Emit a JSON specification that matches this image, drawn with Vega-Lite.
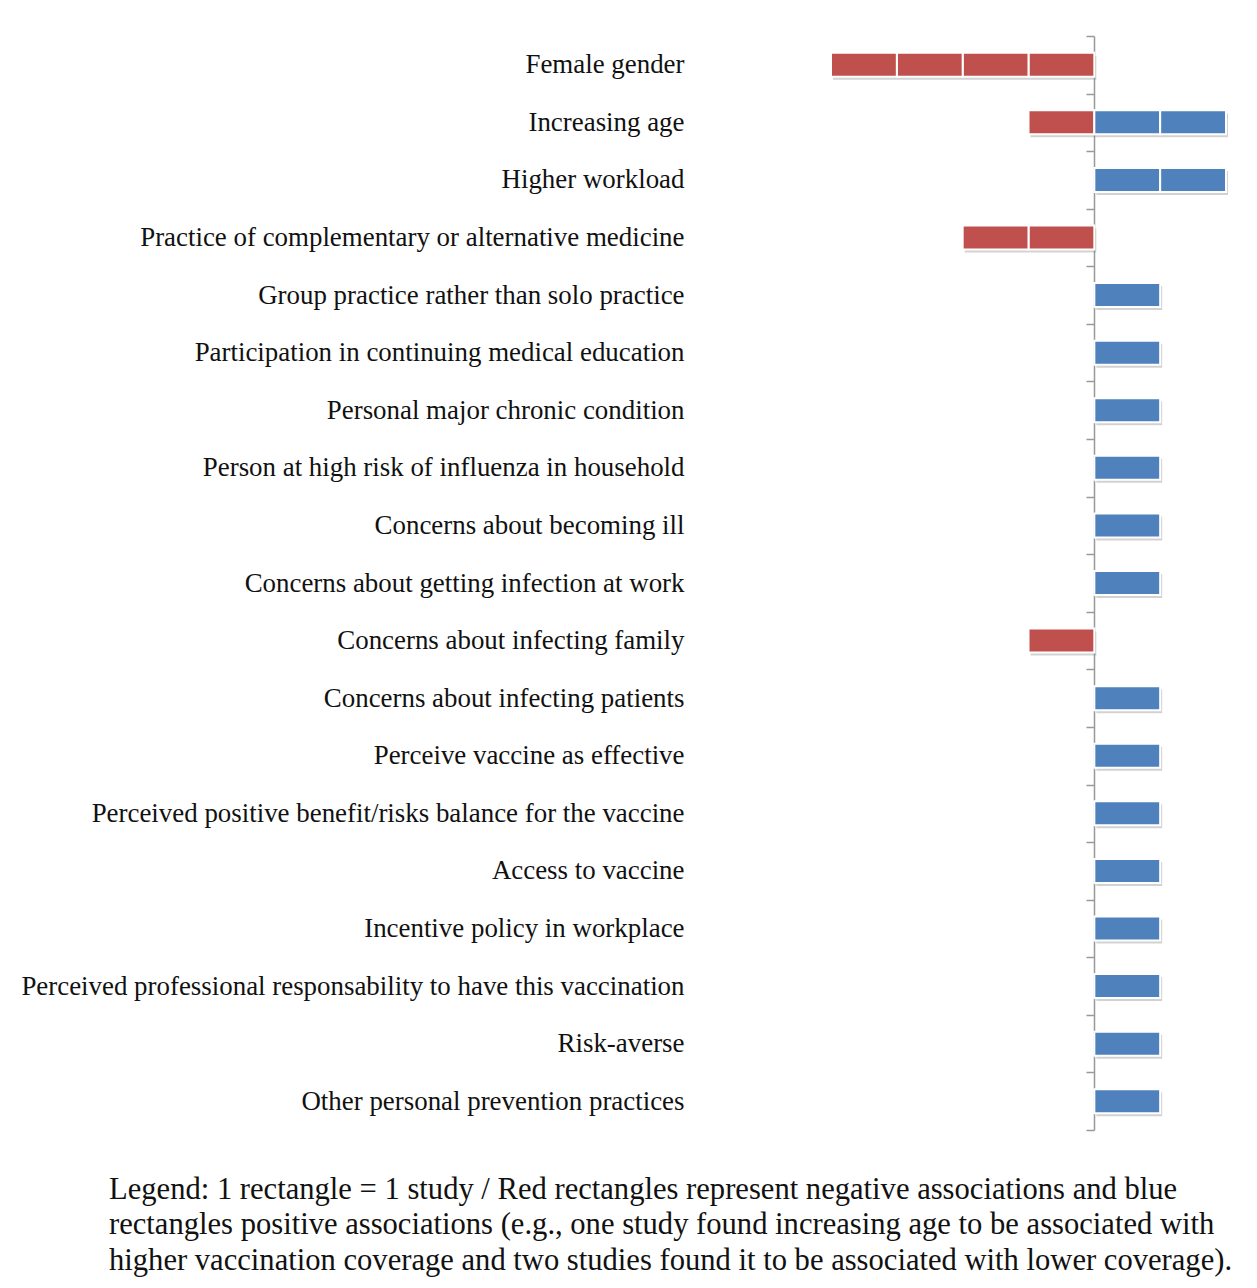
{
  "$schema": "https://vega.github.io/schema/vega-lite/v6.json",
  "width": 395,
  "height": 1094,
  "padding": {"left": 20, "top": 22, "right": 5, "bottom": 5},
  "background": "white",
  "config": {
    "view": {"stroke": null},
    "font": "Liberation Serif"
  },
  "title": {
    "text": [
      "Legend: 1 rectangle = 1 study / Red rectangles represent negative associations and blue",
      "rectangles positive associations (e.g., one study found increasing age to be associated with",
      "higher vaccination coverage and two studies found it to be associated with lower coverage)."
    ],
    "orient": "bottom",
    "anchor": "start",
    "frame": "group",
    "dx": -722,
    "offset": 44,
    "font": "Liberation Serif",
    "fontSize": 30.6,
    "fontWeight": "normal",
    "lineHeight": 35.5,
    "color": "#111111"
  },
  "data": {
    "values": [
      {"factor": "Female gender", "study": 1, "value": -1, "direction": "negative"},
      {"factor": "Female gender", "study": 2, "value": -1, "direction": "negative"},
      {"factor": "Female gender", "study": 3, "value": -1, "direction": "negative"},
      {"factor": "Female gender", "study": 4, "value": -1, "direction": "negative"},
      {"factor": "Increasing age", "study": 1, "value": -1, "direction": "negative"},
      {"factor": "Increasing age", "study": 2, "value": 1, "direction": "positive"},
      {"factor": "Increasing age", "study": 3, "value": 1, "direction": "positive"},
      {"factor": "Higher workload", "study": 1, "value": 1, "direction": "positive"},
      {"factor": "Higher workload", "study": 2, "value": 1, "direction": "positive"},
      {"factor": "Practice of complementary or alternative medicine", "study": 1, "value": -1, "direction": "negative"},
      {"factor": "Practice of complementary or alternative medicine", "study": 2, "value": -1, "direction": "negative"},
      {"factor": "Group practice rather than solo practice", "study": 1, "value": 1, "direction": "positive"},
      {"factor": "Participation in continuing medical education", "study": 1, "value": 1, "direction": "positive"},
      {"factor": "Personal major chronic condition\u00a0", "study": 1, "value": 1, "direction": "positive"},
      {"factor": "Person at high risk of influenza in household", "study": 1, "value": 1, "direction": "positive"},
      {"factor": "Concerns about becoming ill", "study": 1, "value": 1, "direction": "positive"},
      {"factor": "Concerns about getting infection at work", "study": 1, "value": 1, "direction": "positive"},
      {"factor": "Concerns about infecting family", "study": 1, "value": -1, "direction": "negative"},
      {"factor": "Concerns about infecting patients", "study": 1, "value": 1, "direction": "positive"},
      {"factor": "Perceive vaccine as effective", "study": 1, "value": 1, "direction": "positive"},
      {"factor": "Perceived positive benefit/risks balance for the vaccine", "study": 1, "value": 1, "direction": "positive"},
      {"factor": "Access to vaccine", "study": 1, "value": 1, "direction": "positive"},
      {"factor": "Incentive policy in workplace", "study": 1, "value": 1, "direction": "positive"},
      {"factor": "Perceived professional responsability to have this vaccination", "study": 1, "value": 1, "direction": "positive"},
      {"factor": "Risk-averse", "study": 1, "value": 1, "direction": "positive"},
      {"factor": "Other personal prevention practices", "study": 1, "value": 1, "direction": "positive"}
    ]
  },
  "encoding": {
    "y": {
      "field": "factor",
      "type": "nominal",
      "sort": null,
      "scale": {"paddingInner": 0, "paddingOuter": 0},
      "axis": {
        "title": null,
        "orient": "left",
        "offset": -263,
        "tickBand": "extent",
        "tickSize": 8,
        "tickColor": "#999999",
        "tickWidth": 1.5,
        "domainColor": "#999999",
        "domainWidth": 1.5,
        "labelPadding": 402,
        "labelFont": "Liberation Serif",
        "labelFontSize": 26.9,
        "labelColor": "#111111",
        "labelLimit": 0
      }
    },
    "x": {
      "field": "value",
      "type": "quantitative",
      "stack": "zero",
      "scale": {"domain": [-4, 2], "nice": false, "zero": true},
      "axis": null
    },
    "detail": {"field": "study"}
  },
  "layer": [
    {
      "mark": {"type": "bar", "size": 24, "color": "#7f7f7f", "opacity": 0.35, "xOffset": 2, "yOffset": 3, "stroke": null},
      "encoding": {}
    },
    {
      "mark": {"type": "bar", "size": 24, "stroke": "white", "strokeWidth": 2},
      "encoding": {
        "color": {
          "field": "direction",
          "type": "nominal",
          "scale": {"domain": ["negative", "positive"], "range": ["#C0504D", "#4F81BD"]},
          "legend": null
        }
      }
    }
  ]
}
